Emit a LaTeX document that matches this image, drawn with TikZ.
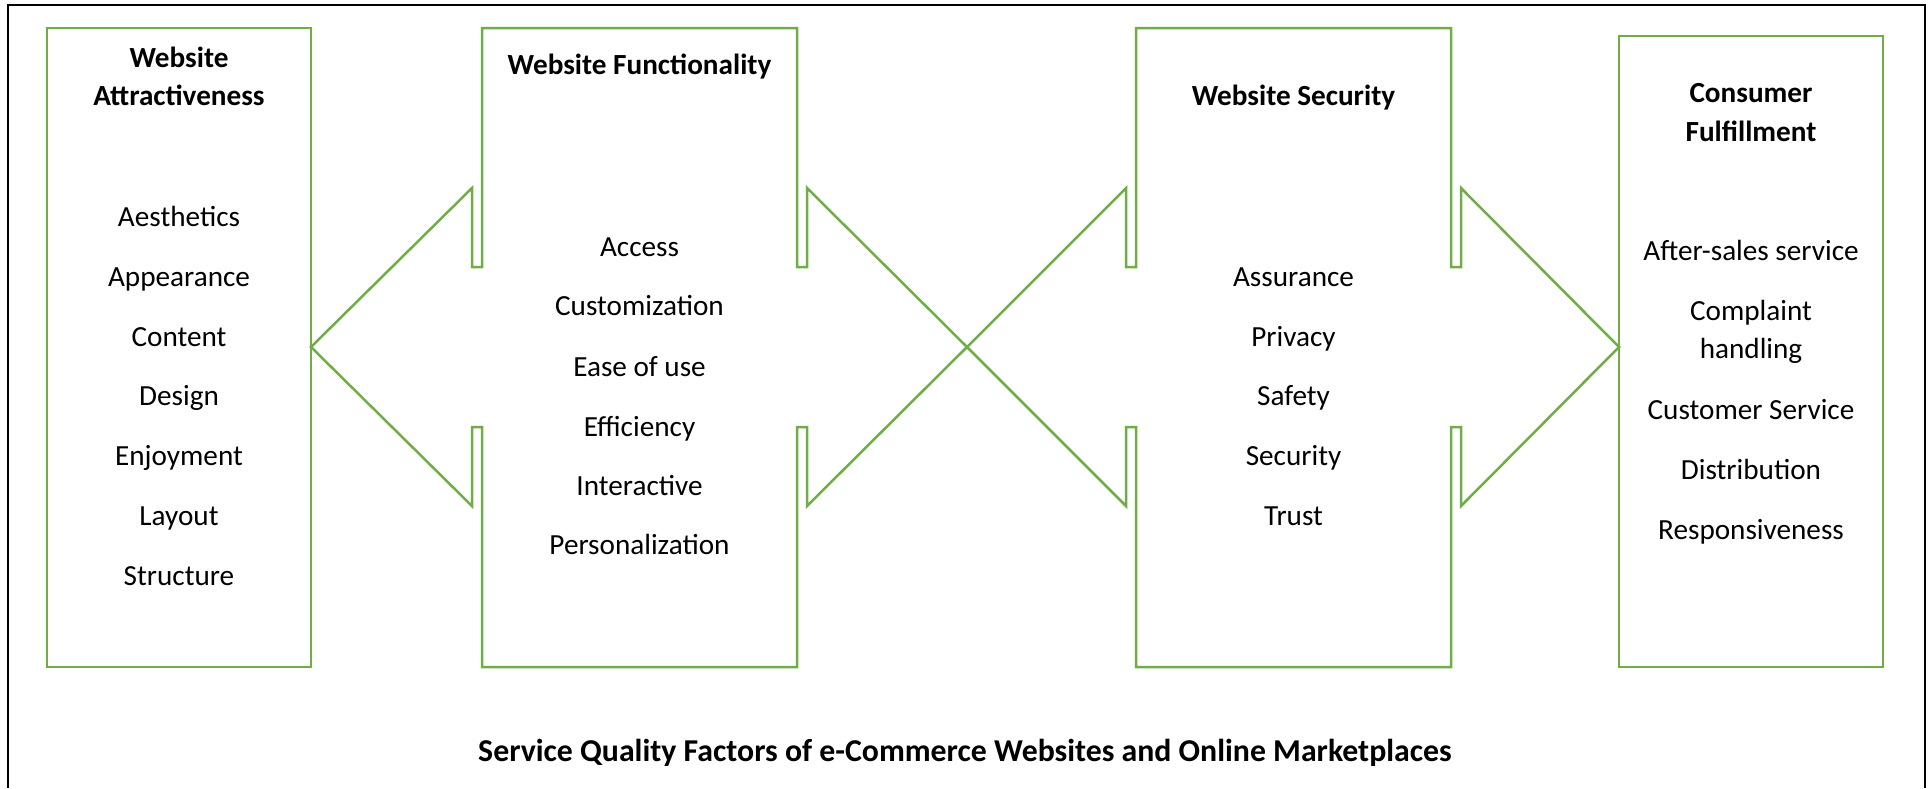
\documentclass[tikz,border=0pt]{standalone}
\usepackage{fontspec}
\setmainfont{Carlito}
\definecolor{accgreen}{HTML}{70AD47}
\begin{document}
\begin{tikzpicture}[x=0.5pt,y=-0.5pt,
  callout/.style={draw=accgreen,line width=1.25pt,line join=miter},
  frameline/.style={draw=black,line width=1.4pt,line join=miter},
  itemtext/.style={anchor=base,inner sep=0pt,font=\fontsize{14.6}{19}\selectfont},
  headtext/.style={anchor=base,inner sep=0pt,font=\fontsize{14.6}{19}\selectfont\bfseries},
  captiontext/.style={anchor=base,inner sep=0pt,font=\fontsize{15.9}{19}\selectfont\bfseries}]
\useasboundingbox (0,0) rectangle (1930,788);
% outer frame (no bottom edge)
\draw[frameline] (8,788) -- (8,5) -- (1925,5) -- (1925,788);
% box 1
\draw[callout] (47,28) rectangle (311,667);
% box 2 with left and right arrows
\draw[callout] (482,28) -- (797,28) -- (797,267) -- (807,267) -- (807,188) -- (967,347) -- (807,506) -- (807,427) -- (797,427) -- (797,667) -- (482,667) -- (482,427) -- (472,427) -- (472,506) -- (311,347) -- (472,188) -- (472,267) -- (482,267) -- cycle;
% box 3 with left and right arrows
\draw[callout] (1136,28) -- (1451,28) -- (1451,267) -- (1461,267) -- (1461,188) -- (1619,347) -- (1461,506) -- (1461,427) -- (1451,427) -- (1451,667) -- (1136,667) -- (1136,427) -- (1126,427) -- (1126,506) -- (967,347) -- (1126,188) -- (1126,267) -- (1136,267) -- cycle;
% box 4
\draw[callout] (1619,36) rectangle (1883,667);
% box 1 text
\node[headtext] (h1a) at (179,67) {Website};
\node[headtext] (h1b) at (179,105) {Attractiveness};
\node[itemtext] (a1) at (179,226) {Aesthetics};
\node[itemtext] (a2) at (179,286) {Appearance};
\node[itemtext] (a3) at (179,346) {Content};
\node[itemtext] (a4) at (179,405) {Design};
\node[itemtext] (a5) at (179,465) {Enjoyment};
\node[itemtext] (a6) at (179,525) {Layout};
\node[itemtext] (a7) at (179,585) {Structure};
% box 2 text
\node[headtext] (h2) at (639.5,74) {Website Functionality};
\node[itemtext] (f1) at (639.5,256) {Access};
\node[itemtext] (f2) at (639.5,315) {Customization};
\node[itemtext] (f3) at (639.5,376) {Ease of use};
\node[itemtext] (f4) at (639.5,436) {Efficiency};
\node[itemtext] (f5) at (639.5,495) {Interactive};
\node[itemtext] (f6) at (639.5,554) {Personalization};
% box 3 text
\node[headtext] (h3) at (1293.5,105) {Website Security};
\node[itemtext] (s1) at (1293.5,286) {Assurance};
\node[itemtext] (s2) at (1293.5,346) {Privacy};
\node[itemtext] (s3) at (1293.5,405) {Safety};
\node[itemtext] (s4) at (1293.5,465) {Security};
\node[itemtext] (s5) at (1293.5,525) {Trust};
% box 4 text
\node[headtext] (h4a) at (1751,102) {Consumer};
\node[headtext] (h4b) at (1751,141) {Fulfillment};
\node[itemtext] (c1) at (1751,260) {After-sales service};
\node[itemtext] (c2a) at (1751,320) {Complaint};
\node[itemtext] (c2b) at (1751,358) {handling};
\node[itemtext] (c3) at (1751,419) {Customer Service};
\node[itemtext] (c4) at (1751,479) {Distribution};
\node[itemtext] (c5) at (1751,539) {Responsiveness};
% caption
\node[captiontext] (title) at (965,761) {Service Quality Factors of e-Commerce Websites and Online Marketplaces};
\end{tikzpicture}
\end{document}
